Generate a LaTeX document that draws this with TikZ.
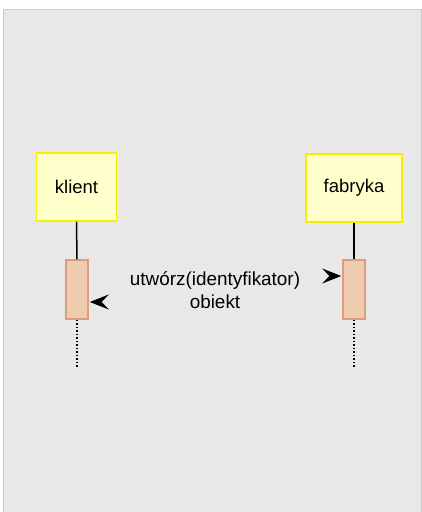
\documentclass[tikz,border=0pt]{standalone}
\usepackage{fontspec}
\setmainfont{Liberation Sans}
\usetikzlibrary{calc}
\definecolor{actfill}{RGB}{238,204,178}
\definecolor{actdraw}{RGB}{222,156,120}
\definecolor{boxfill}{RGB}{255,255,204}
\definecolor{boxdraw}{RGB}{245,240,0}
\begin{document}
\begin{tikzpicture}[x=1pt,y=-1pt,
  actor/.style={draw=boxdraw, line width=1.5pt, fill=boxfill, minimum width=80pt, minimum height=68pt, inner sep=0pt, font=\fontsize{18.5}{22}\selectfont},
  act/.style={draw=actdraw, line width=1.5pt, fill=actfill, minimum width=22pt, minimum height=59pt, inner sep=0pt},
  life/.style={line width=1.5pt, black},
  dots/.style={line width=1.5pt, dotted, black},
  lbl/.style={font=\fontsize{18.9}{22}\selectfont, inner sep=0pt}
]
\useasboundingbox (0,0) rectangle (422,512);
\fill[white] (0,0) rectangle (422,512);
\draw[fill=black!9, draw=black!20] (3,9) rectangle (421,520);
\node[actor] (klient) at (76.5,187) {klient};
\node[actor, minimum width=96pt] (fabryka) at (354,188) {fabryka};
\node[act] (ak) at (77,289.5) {};
\node[act] (af) at (354,289.5) {};
\coordinate (ek) at (77,368);
\coordinate (ef) at (354,368);
\draw[life] (klient.south) -- (ak.north);
\draw[life] (fabryka.south) -- (af.north);
\draw[dots] (ak.south) -- (ek);
\draw[dots] (af.south) -- (ef);
\node[lbl] (msg) at (215,280) {utwórz(identyfikator)};
\node[lbl] (ret) at (215,302) {obiekt};
% arrowheads
\fill[black] ($(ak.east)+(1,12.5)$) -- ++(19,-7.5) -- ++(-7,7.5) -- ++(7,7.5) -- cycle;
\fill[black] ($(af.west)+(-1,-13.5)$) -- ++(-19,-7.5) -- ++(7,7.5) -- ++(-7,7.5) -- cycle;
\end{tikzpicture}
\end{document}
